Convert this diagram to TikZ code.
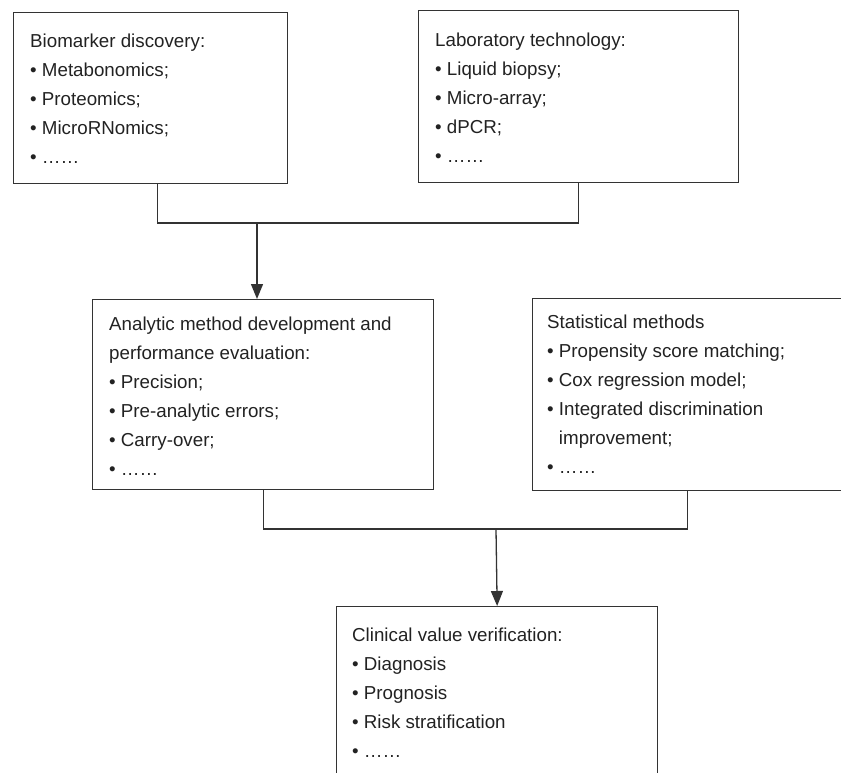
\documentclass[tikz,border=0pt]{standalone}
\usepackage{fontspec}
\setmainfont{Liberation Sans}
\usetikzlibrary{arrows.meta}
\definecolor{linegray}{HTML}{333333}
\definecolor{textgray}{HTML}{222222}

\newcommand{\boxlines}[1]{\parbox[t]{300pt}{\fontsize{18.75}{29}\selectfont #1}}

\begin{document}
\begin{tikzpicture}[x=1pt, y=-1pt, >={Triangle[length=15pt, width=12pt]},
  box/.style={draw=linegray, line width=1.3pt, inner sep=0pt, anchor=north west},
  txt/.style={text=textgray, inner sep=0pt, anchor=base west},
  conn/.style={draw=linegray, line width=1.3pt}]

\useasboundingbox (0,0) rectangle (841,773);
\clip (0,0) rectangle (841,773);

% Top row: discovery and lab technology
\node[box, minimum width=274pt, minimum height=171pt] (bio) at (13,12) {};
\node[box, minimum width=320pt, minimum height=172pt] (lab) at (418,10) {};

\node[txt] (biotxt) at ([xshift=17pt, yshift=-36pt]bio.north west) {\boxlines{%
  Biomarker discovery:\\
  • Metabonomics;\\
  • Proteomics;\\
  • MicroRNomics;\\
  • ……}};
\node[txt] (labtxt) at ([xshift=17pt, yshift=-37pt]lab.north west) {\boxlines{%
  Laboratory technology:\\
  • Liquid biopsy;\\
  • Micro-array;\\
  • dPCR;\\
  • ……}};

% Middle row: method development and statistics
\node[box, minimum width=341pt, minimum height=190pt] (ana) at (92,299) {};
\node[box, minimum width=310pt, minimum height=192pt] (stat) at (532,298) {};

\node[txt] (anatxt) at ([xshift=17pt, yshift=-31pt]ana.north west) {\boxlines{%
  Analytic method development and\\
  performance evaluation:\\
  • Precision;\\
  • Pre-analytic errors;\\
  • Carry-over;\\
  • ……}};
\node[txt] (stattxt) at ([xshift=15pt, yshift=-30pt]stat.north west) {\boxlines{%
  Statistical methods\\
  • Propensity score matching;\\
  • Cox regression model;\\
  • Integrated discrimination\\
  \phantom{• }improvement;\\
  • ……}};

% Bottom: clinical verification (runs past the lower edge)
\node[box, minimum width=321pt, minimum height=184pt] (clin) at (336,606) {};

\node[txt] (clintxt) at ([xshift=16pt, yshift=-35pt]clin.north west) {\boxlines{%
  Clinical value verification:\\
  • Diagnosis\\
  • Prognosis\\
  • Risk stratification\\
  • ……}};

% Connectors
\coordinate (joinA) at (257,223);
\coordinate (joinB) at (496,529);

\draw[conn] ([xshift=7pt]bio.south) |- (joinA) -| (lab.south);
\draw[conn, ->] (joinA) -- (joinA |- ana.north);

\draw[conn] (ana.south) |- (joinB) -| (stat.south);
\draw[conn, ->] (joinB) -- (clin.north);

\end{tikzpicture}
\end{document}
